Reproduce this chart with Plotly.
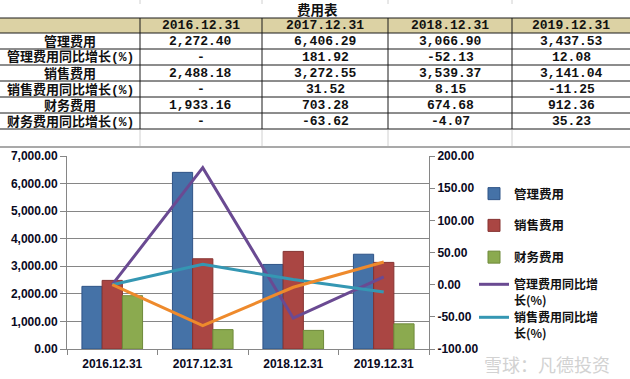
import plotly.graph_objects as go

# ---- data ----
dates = ["2016.12.31", "2017.12.31", "2018.12.31", "2019.12.31"]
mgmt_exp = [2272.40, 6406.29, 3066.90, 3437.53]
mgmt_growth = [None, 181.92, -52.13, 12.08]
sales_exp = [2488.18, 3272.55, 3539.37, 3141.04]
sales_growth = [None, 31.52, 8.15, -11.25]
fin_exp = [1933.16, 703.28, 674.68, 912.36]
fin_growth = [None, -63.62, -4.07, 35.23]
row_labels = ["管理费用", "管理费用同比增长(%)", "销售费用", "销售费用同比增长(%)",
              "财务费用", "财务费用同比增长(%)"]
left_ticks = [0, 1000, 2000, 3000, 4000, 5000, 6000, 7000]
right_ticks = [-100, -50, 0, 50, 100, 150, 200]

W, H = 630, 379
def px(x):
    return x / W
def py(y):
    return 1 - y / H

def fmt(v):
    return "-" if v is None else f"{v:,.2f}"

def plot_vals(vals):
    # Excel plots the "-" text cell as 0
    return [0 if v is None else v for v in vals]

tbl_font = dict(family="Liberation Mono, Noto Sans CJK SC", size=13, color="#111", weight="bold")
chart_font = "Liberation Sans, Noto Sans CJK SC"

fig = go.Figure()

bar_specs = [("管理费用", mgmt_exp, "#4572A7", "#2F5487"),
             ("销售费用", sales_exp, "#AA4643", "#863331"),
             ("财务费用", fin_exp, "#8BAA4F", "#6E8A3A")]
for name, vals, col, edge in bar_specs:
    fig.add_trace(go.Bar(x=dates, y=vals, name=f"<b>{name}</b>", legendgroup=name,
                         legend="legend",
                         marker=dict(color=col, line=dict(color=edge, width=1)),
                         xaxis="x", yaxis="y"))

line_specs = [("管理费用同比增<br>长(%)", mgmt_growth, "#6A4A92", "legend2", True),
              ("销售费用同比增<br>长(%)", sales_growth, "#3597B3", "legend3", True),
              ("财务费用同比增长(%)", fin_growth, "#EE8A2C", "legend3", False)]
for name, vals, col, lg, show in line_specs:
    fig.add_trace(go.Scatter(x=dates, y=plot_vals(vals), name=f"<b>{name}</b>",
                             legendgroup=name, legend=lg, mode="lines", showlegend=show,
                             line=dict(color=col, width=3),
                             xaxis="x", yaxis="y2"))

tickfont = dict(family=chart_font, size=12, color="#0a0a1e", weight="bold")
leg_font = dict(family="Noto Sans CJK SC", size=12.5, color="#111")
leg_common = dict(xanchor="left", yanchor="top", valign="top",
                  tracegroupgap=12.5, itemwidth=30, bgcolor="rgba(0,0,0,0)")
fig.update_layout(
    width=W, height=H, margin=dict(l=0, r=0, t=0, b=0, pad=0, autoexpand=False),
    paper_bgcolor="white", plot_bgcolor="white",
    barmode="group", bargap=0.33, bargroupgap=0,
    xaxis=dict(domain=[px(67), px(429)], type="category", automargin=False,
               showline=True, linecolor="#868686", linewidth=1,
               ticks="outside", tickson="boundaries", ticklen=5, tickcolor="#868686",
               ticklabelstandoff=4,
               tickfont=tickfont, showgrid=False, anchor="y"),
    yaxis=dict(domain=[py(349), py(156)], range=[0, 7000], automargin=False,
               tickvals=left_ticks, ticktext=[f"{v:,.2f}" for v in left_ticks],
               showline=True, linecolor="#868686", linewidth=1,
               ticks="outside", ticklen=6, tickcolor="#868686",
               showgrid=True, gridcolor="#868686", gridwidth=1,
               zeroline=False, tickfont=tickfont, anchor="x"),
    yaxis2=dict(overlaying="y", side="right", anchor="x", range=[-100, 200],
                automargin=False,
                tickvals=right_ticks, ticktext=[f"{v:.2f}" for v in right_ticks],
                showline=True, linecolor="#868686", linewidth=1,
                ticks="outside", ticklen=5, tickcolor="#868686",
                showgrid=False, zeroline=False, tickfont=tickfont),
    legend=dict(x=px(474), y=py(179), font=leg_font, **leg_common),
    legend2=dict(x=px(474), y=py(270), font=dict(leg_font, size=12), **leg_common),
    legend3=dict(x=px(474), y=py(303), font=dict(leg_font, size=12), **leg_common),
    showlegend=True,
)

# ---- spreadsheet table (drawn with shapes + text) ----
col_edges = [0, 140, 262, 388, 512, 630]
row_edges = [18, 33, 49, 65, 81, 97, 113, 129]
fig.add_shape(type="rect", xref="paper", yref="paper", layer="below",
              x0=0, x1=1, y0=py(row_edges[1]), y1=py(row_edges[0]),
              fillcolor="#DCD2A4", line=dict(width=0))
for ry in row_edges:
    fig.add_shape(type="line", xref="paper", yref="paper",
                  x0=0, x1=1, y0=py(ry), y1=py(ry),
                  line=dict(color="#1a1a1a", width=1))
for cx in col_edges[1:-1]:
    fig.add_shape(type="line", xref="paper", yref="paper",
                  x0=px(cx), x1=px(cx), y0=py(row_edges[-1]), y1=py(row_edges[0]),
                  line=dict(color="#1a1a1a", width=1))

def cell_text(text, ci, ri_top, ri_bot):
    fig.add_annotation(x=px((col_edges[ci] + col_edges[ci + 1]) / 2),
                       y=py((ri_top + ri_bot) / 2 + 0.5), xref="paper", yref="paper",
                       text=text, showarrow=False, font=tbl_font,
                       xanchor="center", yanchor="middle")

for i, d in enumerate(dates):
    cell_text(d, i + 1, row_edges[0], row_edges[1])
series_rows = [mgmt_exp, mgmt_growth, sales_exp, sales_growth, fin_exp, fin_growth]
for r, (lab, vals) in enumerate(zip(row_labels, series_rows)):
    top, bot = row_edges[r + 1], row_edges[r + 2]
    cell_text(lab, 0, top, bot)
    for i, v in enumerate(vals):
        cell_text(fmt(v), i + 1, top, bot)

# table title
fig.add_annotation(x=px(317), y=py(9), xref="paper", yref="paper",
                   xanchor="center", yanchor="middle",
                   text="费用表", showarrow=False,
                   font=dict(family="Noto Sans CJK SC", size=13.5, color="#111", weight="bold"))

# light spreadsheet gridlines outside the table
for gx in [140, 262, 388, 512]:
    fig.add_shape(type="line", xref="paper", yref="paper",
                  x0=px(gx), x1=px(gx), y0=py(130), y1=py(146),
                  line=dict(color="#D0D0D0", width=1))
    fig.add_shape(type="line", xref="paper", yref="paper",
                  x0=px(gx), x1=px(gx), y0=py(0), y1=py(4),
                  line=dict(color="#D0D0D0", width=1))
# chart object border
fig.add_shape(type="line", xref="paper", yref="paper",
              x0=0, x1=1, y0=py(147), y1=py(147),
              line=dict(color="#8C8C8C", width=1.5))

# watermark
fig.add_annotation(x=px(612), y=py(364), xref="paper", yref="paper",
                   xanchor="right", yanchor="middle", text="雪球：凡德投资", showarrow=False,
                   font=dict(family="Noto Sans CJK SC", size=18, color="#D2D2D2"))

fig.write_html("out.html", config={"displayModeBar": False},
               post_script="document.body.style.margin='0px';")
